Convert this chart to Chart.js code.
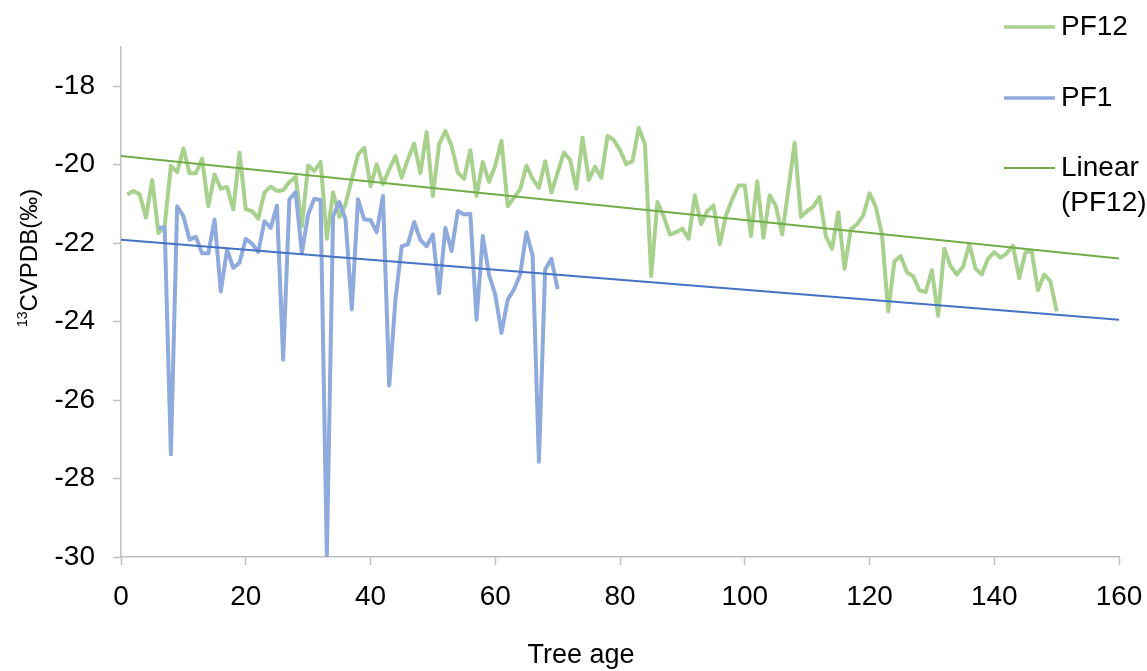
<!DOCTYPE html>
<html>
<head>
<meta charset="utf-8">
<script src="https://cdn.jsdelivr.net/npm/chart.js@4/dist/chart.umd.min.js"></script>
<style>
  body { margin: 0; background: #fff; }
</style>
</head>
<body>
<canvas id="chart" width="1147" height="671"></canvas>
<script>
// tree age (years) of the first value in each series
const pf12StartAge = 1;
const pf1StartAge = 6;

// d13C values, one per year
const pf12Values = [
  -20.76, -20.67, -20.76, -21.35, -20.39, -21.74, -21.57, -20.03, -20.19, -19.59,
  -20.22, -20.22, -19.85, -21.06, -20.25, -20.61, -20.57, -21.14, -19.69, -21.14,
  -21.18, -21.38, -20.71, -20.56, -20.67, -20.65, -20.44, -20.31, -21.57, -20.02,
  -20.16, -19.93, -21.89, -20.70, -21.33, -21.01, -20.37, -19.74, -19.57, -20.55,
  -19.99, -20.50, -20.12, -19.78, -20.33, -19.86, -19.46, -20.22, -19.17, -20.80,
  -19.48, -19.14, -19.52, -20.20, -20.36, -19.63, -20.80, -19.93, -20.44, -20.03,
  -19.39, -21.06, -20.84, -20.63, -20.02, -20.36, -20.59, -19.91, -20.71, -20.20,
  -19.69, -19.88, -20.61, -19.31, -20.39, -20.05, -20.33, -19.27, -19.37, -19.63,
  -19.99, -19.91, -19.06, -19.48, -22.84, -20.95, -21.31, -21.78, -21.72, -21.63,
  -21.89, -20.78, -21.52, -21.18, -21.04, -22.03, -21.29, -20.88, -20.53, -20.53,
  -21.82, -20.42, -21.86, -20.78, -21.06, -21.78, -20.63, -19.44, -21.33, -21.18,
  -21.07, -20.82, -21.82, -22.14, -21.21, -22.65, -21.65, -21.52, -21.29, -20.73,
  -21.07, -21.78, -23.74, -22.46, -22.33, -22.74, -22.84, -23.20, -23.25, -22.69,
  -23.85, -22.14, -22.59, -22.80, -22.60, -22.03, -22.65, -22.80, -22.40, -22.23,
  -22.37, -22.26, -22.06, -22.89, -22.23, -22.20, -23.20, -22.80, -22.97, -23.74
];

const pf1Values = [
  -21.61, -21.60, -27.38, -21.06, -21.31, -21.91, -21.84, -22.26, -22.26, -21.40,
  -23.23, -22.16, -22.63, -22.50, -21.89, -22.01, -22.23, -21.44, -21.61, -21.04,
  -24.97, -20.88, -20.70, -22.25, -21.27, -20.87, -20.90, -30.00, -21.31, -20.95,
  -21.40, -23.69, -20.88, -21.40, -21.41, -21.72, -20.80, -25.63, -23.44, -22.08,
  -22.03, -21.46, -21.92, -22.08, -21.78, -23.28, -21.61, -22.20, -21.18, -21.27,
  -21.25, -23.95, -21.82, -22.80, -23.31, -24.29, -23.44, -23.18, -22.80, -21.72,
  -22.33, -27.57, -22.67, -22.40, -23.17
];

// linear trend end points
const trendAges = [0, 160];
const pf12Trend = [-19.78, -22.39];
const pf1Trend = [-21.91, -23.95];

const xTicks = [0, 20, 40, 60, 80, 100, 120, 140, 160];
const yTicks = [-30, -28, -26, -24, -22, -20, -18];

const FONT = '"Liberation Sans", Arial, sans-serif';
const axisGray = '#BFBFBF';
const pf12Color = '#A9D18E';
const pf1Color = '#8FAADC';
const pf12TrendColor = '#70AD47';
const pf1TrendColor = '#4472C4';

function toPoints(start, values) {
  return values.map((v, i) => ({ x: start + i, y: v }));
}
function trendPoints(values) {
  return trendAges.map((a, i) => ({ x: a, y: values[i] }));
}

// legend + axis titles drawn over the chart
const extras = {
  id: 'extras',
  afterDraw(chart) {
    const ctx = chart.ctx;
    ctx.save();
    ctx.fillStyle = '#000';
    ctx.textBaseline = 'middle';

    // legend
    const items = [
      { y: 27, color: pf12Color, width: 3.5, lines: ['PF12'] },
      { y: 98, color: pf1Color, width: 3.5, lines: ['PF1'] },
      { y: 168, color: pf12TrendColor, width: 2, lines: ['Linear', '(PF12)'] }
    ];
    ctx.font = '28px ' + FONT;
    ctx.textAlign = 'left';
    items.forEach(it => {
      ctx.strokeStyle = it.color;
      ctx.lineWidth = it.width;
      ctx.beginPath();
      ctx.moveTo(1004, it.y);
      ctx.lineTo(1055, it.y);
      ctx.stroke();
      it.lines.forEach((t, j) => ctx.fillText(t, 1061, it.y + j * 35));
    });

    // x title
    ctx.textAlign = 'center';
    ctx.font = '27px ' + FONT;
    ctx.fillText('Tree age', 581, 656);

    // y title with superscript 13
    ctx.translate(30, 258);
    ctx.rotate(-Math.PI / 2);
    ctx.textAlign = 'left';
    ctx.font = '14px ' + FONT;
    const supW = ctx.measureText('13').width;
    ctx.font = '24px ' + FONT;
    const mainW = ctx.measureText('CVPDB(‰)').width;
    const x0 = -(supW + mainW) / 2;
    ctx.font = '14px ' + FONT;
    ctx.fillText('13', x0, -7);
    ctx.font = '24px ' + FONT;
    ctx.fillText('CVPDB(‰)', x0 + supW, 0);
    ctx.restore();
  }
};

const ctx = document.getElementById('chart').getContext('2d');
new Chart(ctx, {
  type: 'line',
  data: {
    datasets: [
      {
        label: 'Linear (PF12)',
        data: trendPoints(pf12Trend),
        borderColor: pf12TrendColor,
        borderWidth: 2
      },
      {
        label: 'Linear (PF1)',
        data: trendPoints(pf1Trend),
        borderColor: pf1TrendColor,
        borderWidth: 2
      },
      {
        label: 'PF1',
        data: toPoints(pf1StartAge, pf1Values),
        borderColor: pf1Color,
        borderWidth: 4
      },
      {
        label: 'PF12',
        data: toPoints(pf12StartAge, pf12Values),
        borderColor: pf12Color,
        borderWidth: 4
      }
    ]
  },
  options: {
    responsive: false,
    animation: false,
    events: [],
    elements: {
      point: { radius: 0 },
      line: { tension: 0, borderJoinStyle: 'round', borderCapStyle: 'butt' }
    },
    layout: { padding: { top: 47, right: 28, left: 0, bottom: 0 } },
    plugins: {
      legend: { display: false },
      tooltip: { enabled: false }
    },
    scales: {
      x: {
        type: 'linear',
        min: 0,
        max: 160,
        afterFit: s => {
          s.height = 114;
          // tick labels may overhang the plot edge
          s.paddingLeft = 0;
          s.paddingRight = 0;
        },
        afterBuildTicks: s => { s.ticks = xTicks.map(v => ({ value: v })); },
        grid: {
          drawOnChartArea: false,
          drawTicks: true,
          tickLength: 8,
          tickColor: axisGray,
          tickWidth: 1.5
        },
        border: { color: axisGray, width: 1.5 },
        ticks: {
          padding: 15,
          maxRotation: 0,
          color: '#000',
          font: { family: FONT, size: 28 }
        }
      },
      y: {
        type: 'linear',
        min: -30,
        max: -17,
        afterFit: s => {
          s.width = 121;
          s.paddingTop = 0;
          s.paddingBottom = 0;
        },
        afterBuildTicks: s => { s.ticks = yTicks.map(v => ({ value: v })); },
        grid: {
          drawOnChartArea: false,
          drawTicks: true,
          tickLength: 8,
          tickColor: axisGray,
          tickWidth: 1.5
        },
        border: { color: axisGray, width: 1.5 },
        ticks: {
          padding: 18,
          color: '#000',
          font: { family: FONT, size: 28 }
        }
      }
    }
  },
  plugins: [extras]
});
</script>
</body>
</html>
